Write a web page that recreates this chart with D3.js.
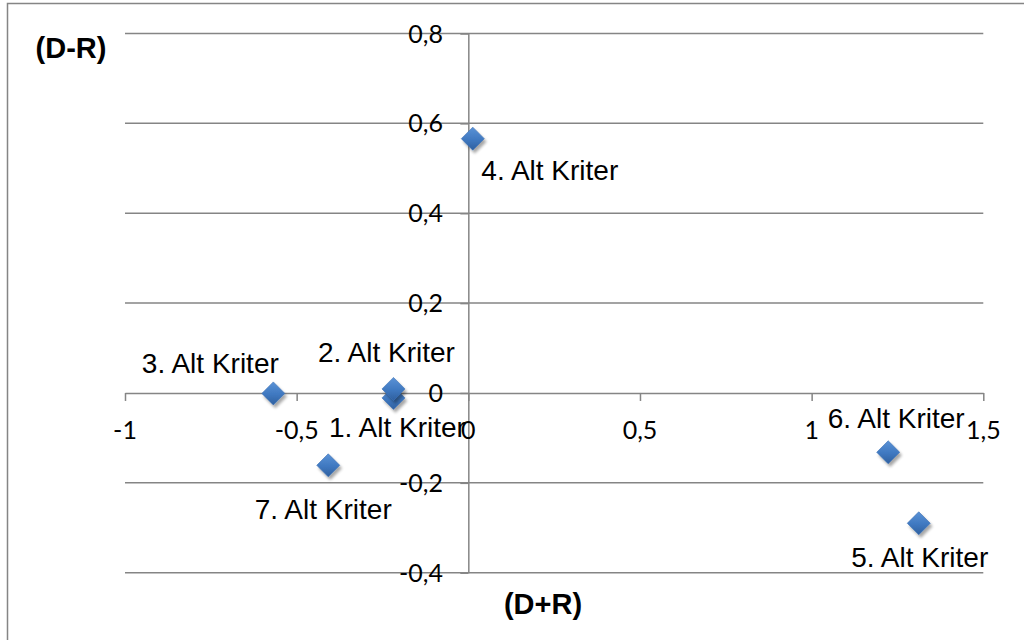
<!DOCTYPE html>
<html>
<head>
<meta charset="utf-8">
<script src="https://cdn.jsdelivr.net/npm/d3@7"></script>
<style>
  html, body { margin: 0; padding: 0; background: #ffffff; }
  svg { display: block; }
</style>
</head>
<body>
<svg id="chart" width="1024" height="640"></svg>
<script>
// Criteria on the influence map: prominence (D+R) vs relation (D-R)
const criteria = ["1. Alt Kriter", "2. Alt Kriter", "3. Alt Kriter", "4. Alt Kriter",
                  "5. Alt Kriter", "6. Alt Kriter", "7. Alt Kriter"];
const dPlusR  = [-0.218, -0.218, -0.568, 0.013, 1.312, 1.223, -0.408];
const dMinusR = [-0.011, 0.009, -0.001, 0.566, -0.290, -0.132, -0.161];

const xTicks = [-1, -0.5, 0, 0.5, 1, 1.5];
const yTicks = [-0.4, -0.2, 0, 0.2, 0.4, 0.6, 0.8];

// Label placement relative to each marker (centre x offset, baseline y offset)
const labelOffsets = [[4, 39], [-7, -27], [-63, -20], [77, 41], [1, 44], [8, -24], [-5, 54]];

const svg = d3.select("#chart");

const x = d3.scaleLinear().domain([-1, 1.5]).range([125, 983.3]);
const y = d3.scaleLinear().domain([-0.4, 0.8]).range([572.7, 33.5]);

const fmt = v => String(v).replace(".", ",");
const gridColor = "#858585";
const tickFont = "Lato, 'Open Sans', sans-serif";
const labelFont = "'Liberation Sans', Arial, sans-serif";

// Defs: marker gradient and soft drop shadow
const defs = svg.append("defs");
const grad = defs.append("linearGradient").attr("id", "mk").attr("x1", 0).attr("y1", 0).attr("x2", 0).attr("y2", 1);
grad.append("stop").attr("offset", "0%").attr("stop-color", "#5a92d6");
grad.append("stop").attr("offset", "55%").attr("stop-color", "#3f78c0");
grad.append("stop").attr("offset", "100%").attr("stop-color", "#2f609f");
const sh = defs.append("filter").attr("id", "shadow").attr("x", "-50%").attr("y", "-50%").attr("width", "200%").attr("height", "200%");
sh.append("feGaussianBlur").attr("in", "SourceAlpha").attr("stdDeviation", 1.6).attr("result", "b");
sh.append("feOffset").attr("in", "b").attr("dx", 1.5).attr("dy", 2.5).attr("result", "o");
sh.append("feComponentTransfer").attr("in", "o").attr("result", "t")
  .append("feFuncA").attr("type", "linear").attr("slope", 0.35);
const merge = sh.append("feMerge");
merge.append("feMergeNode").attr("in", "t");
merge.append("feMergeNode").attr("in", "SourceGraphic");

// Outer chart frame
svg.append("rect")
  .attr("x", 7.5).attr("y", 3.5).attr("width", 1040).attr("height", 660)
  .attr("fill", "none").attr("stroke", gridColor).attr("stroke-width", 1.5);

// Horizontal gridlines
svg.append("g")
  .selectAll("line")
  .data(yTicks.filter(v => v !== 0))
  .join("line")
  .attr("x1", x(-1)).attr("x2", x(1.5))
  .attr("y1", d => y(d)).attr("y2", d => y(d))
  .attr("stroke", gridColor).attr("stroke-width", 1.5);

// Horizontal axis through y = 0, ticks hanging below
const xAxis = d3.axisBottom(x).tickValues(xTicks).tickSize(8).tickSizeOuter(0).tickFormat(() => "");
const gx = svg.append("g").attr("transform", `translate(0,${y(0)})`).call(xAxis);
gx.selectAll("path, line").attr("stroke", gridColor).attr("stroke-width", 1.5);

// Vertical axis through x = 0
const yAxis = d3.axisLeft(y).tickValues(yTicks).tickSize(8).tickSizeOuter(0).tickFormat(() => "");
const gy = svg.append("g").attr("transform", `translate(${x(0)},0)`).call(yAxis);
gy.selectAll("path, line").attr("stroke", gridColor).attr("stroke-width", 1.5);

// Tick labels
svg.append("g")
  .selectAll("text")
  .data(yTicks)
  .join("text")
  .attr("x", 443).attr("y", d => y(d) + 9)
  .attr("text-anchor", "end")
  .attr("font-family", tickFont).attr("font-size", 25).attr("fill", "#000")
  .text(fmt);

svg.append("g")
  .selectAll("text")
  .data(xTicks)
  .join("text")
  .attr("x", d => x(d)).attr("y", 439)
  .attr("text-anchor", "middle")
  .attr("font-family", tickFont).attr("font-size", 25).attr("fill", "#000")
  .text(fmt);

// Axis titles
svg.append("text")
  .attr("x", 71).attr("y", 58)
  .attr("text-anchor", "middle")
  .attr("font-family", labelFont).attr("font-weight", "bold").attr("font-size", 29)
  .attr("fill", "#000")
  .text("(D-R)");
svg.append("text")
  .attr("x", 543).attr("y", 614)
  .attr("text-anchor", "middle")
  .attr("font-family", labelFont).attr("font-weight", "bold").attr("font-size", 29)
  .attr("fill", "#000")
  .text("(D+R)");

// Points
const pts = criteria.map((name, i) => ({ name, px: dPlusR[i], py: dMinusR[i], off: labelOffsets[i] }));
const diamond = d3.symbol().type(d3.symbolDiamond2).size(2 * 13 * 13);

svg.append("g")
  .selectAll("path")
  .data(pts)
  .join("path")
  .attr("d", diamond)
  .attr("transform", d => `translate(${x(d.px)},${y(d.py)})`)
  .attr("fill", "url(#mk)")
  .attr("stroke", "#3a6fb3").attr("stroke-width", 0.6)
  .attr("filter", "url(#shadow)");

// Data labels
svg.append("g")
  .selectAll("text")
  .data(pts)
  .join("text")
  .attr("x", d => x(d.px) + d.off[0])
  .attr("y", d => y(d.py) + d.off[1])
  .attr("text-anchor", "middle")
  .attr("font-family", labelFont).attr("font-size", 28).attr("fill", "#000")
  .text(d => d.name);
</script>
</body>
</html>
